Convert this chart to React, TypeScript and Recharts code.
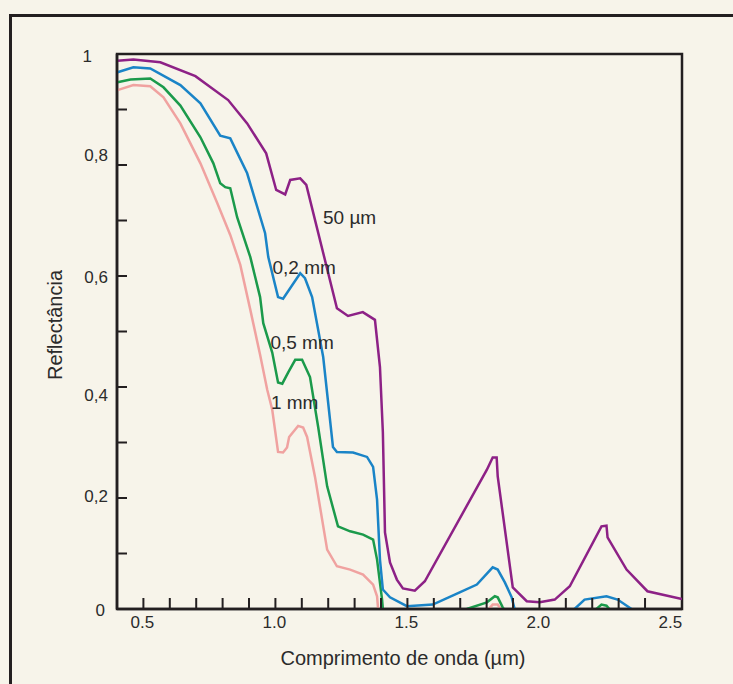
import { LineChart, Line, XAxis, YAxis, ReferenceArea, ReferenceDot } from 'recharts'

type Pt = [number, number | null]

// wavelength (µm), reflectance
const micron50: Pt[] = [
  [0.402, 0.988], [0.462, 0.99], [0.564, 0.985], [0.697, 0.96], [0.821, 0.917],
  [0.893, 0.875], [0.965, 0.821], [1.003, 0.755], [1.037, 0.747], [1.056, 0.773],
  [1.094, 0.776], [1.117, 0.764], [1.233, 0.542], [1.275, 0.528], [1.331, 0.535],
  [1.377, 0.521], [1.396, 0.436], [1.407, 0.318], [1.415, 0.138], [1.434, 0.084],
  [1.46, 0.053], [1.483, 0.037], [1.528, 0.033], [1.566, 0.05], [1.801, 0.251],
  [1.823, 0.273], [1.838, 0.273], [1.842, 0.239], [1.899, 0.039], [1.952, 0.014],
  [2.001, 0.012], [2.058, 0.017], [2.115, 0.041], [2.235, 0.149], [2.254, 0.15],
  [2.258, 0.129], [2.33, 0.071], [2.409, 0.032], [2.54, 0.018],
]

const mm02: Pt[] = [
  [0.402, 0.967], [0.462, 0.976], [0.526, 0.974], [0.64, 0.944], [0.716, 0.911],
  [0.791, 0.853], [0.829, 0.848], [0.893, 0.785], [0.961, 0.677], [0.973, 0.634],
  [1.01, 0.562], [1.029, 0.559], [1.094, 0.605], [1.112, 0.596], [1.139, 0.562],
  [1.181, 0.454], [1.218, 0.292], [1.233, 0.283], [1.294, 0.282], [1.347, 0.274],
  [1.37, 0.256], [1.385, 0.197], [1.396, 0.089], [1.407, 0.035], [1.434, 0.021],
  [1.498, 0.005], [1.596, 0.008], [1.698, 0.03], [1.763, 0.044], [1.823, 0.075],
  [1.842, 0.071], [1.869, 0.048], [1.895, 0.021], [1.906, 0], [2.0, null],
  [2.133, 0], [2.171, 0.017], [2.254, 0.023], [2.296, 0.017], [2.349, 0],
]

const mm05: Pt[] = [
  [0.402, 0.949], [0.451, 0.954], [0.526, 0.956], [0.576, 0.94], [0.64, 0.907],
  [0.716, 0.85], [0.765, 0.803], [0.791, 0.767], [0.81, 0.76], [0.829, 0.758],
  [0.855, 0.706], [0.905, 0.634], [0.942, 0.562], [0.954, 0.515], [0.988, 0.462],
  [1.01, 0.408], [1.026, 0.406], [1.048, 0.426], [1.075, 0.449], [1.101, 0.449],
  [1.131, 0.418], [1.162, 0.328], [1.196, 0.221], [1.237, 0.149], [1.283, 0.14],
  [1.332, 0.134], [1.37, 0.125], [1.385, 0.089], [1.404, 0.017], [1.407, 0],
  [1.6, null],
  [1.725, 0], [1.801, 0.012], [1.831, 0.023], [1.842, 0.021], [1.861, 0.003], [1.865, 0],
  [2.0, null],
  [2.216, 0], [2.235, 0.008], [2.254, 0.006], [2.265, 0],
]

const mm1: Pt[] = [
  [0.402, 0.935], [0.462, 0.944], [0.526, 0.942], [0.576, 0.922], [0.64, 0.875],
  [0.716, 0.803], [0.78, 0.731], [0.829, 0.674], [0.867, 0.62], [0.905, 0.539],
  [0.942, 0.458], [0.969, 0.395], [0.988, 0.359], [1.01, 0.283], [1.029, 0.282],
  [1.044, 0.291], [1.052, 0.31], [1.086, 0.33], [1.105, 0.327], [1.12, 0.31],
  [1.15, 0.238], [1.196, 0.107], [1.233, 0.077], [1.283, 0.071], [1.332, 0.062],
  [1.37, 0.044], [1.385, 0.023], [1.389, 0],
  [1.6, null],
  [1.808, 0], [1.823, 0.008], [1.842, 0.008], [1.853, 0],
]

const xTicks = [
  0.5, 0.6, 0.7, 0.8, 0.9, 1.0, 1.1, 1.2, 1.3, 1.4, 1.5, 1.6, 1.7, 1.8, 1.9,
  2.0, 2.1, 2.2, 2.3, 2.4, 2.5,
]
const yTicks = [0, 0.1, 0.2, 0.3, 0.4, 0.5, 0.6, 0.7, 0.8, 0.9, 1]

const curveLabels = [
  { text: '50 µm', w: 1.281, r: 0.706 },
  { text: '0,2 mm', w: 1.109, r: 0.616 },
  { text: '0,5 mm', w: 1.101, r: 0.481 },
  { text: '1 mm', w: 1.073, r: 0.372 },
]

const INK = '#231f20'
const TEXT = '#2b2b2b'
const FONT = '"Liberation Sans", Arial, sans-serif'

const toRows = (pts: Pt[]) => pts.map(([w, r]) => ({ w, r }))

function XTick({ x, y, payload }: any) {
  const v = payload.value as number
  const major = Math.abs(v * 2 - Math.round(v * 2)) < 1e-6
  return (
    <g>
      {v < 2.45 && <line x1={x} x2={x} y1={y} y2={y - 11} stroke={INK} strokeWidth={2} />}
      {major && (
        <text x={x - 1} y={y + 19} textAnchor="middle" fontSize={17} fill={TEXT}>
          {v.toFixed(1)}
        </text>
      )}
    </g>
  )
}

function YTick({ x, y, payload }: any) {
  const v = payload.value as number
  const k = Math.round(v * 10)
  const labelled = k % 2 === 0
  const label = k === 0 ? '0' : k === 10 ? '1' : v.toFixed(1).replace('.', ',')
  // the original labels sit a little off their ticks
  const dy = { 0: 7, 2: 4, 4: 14, 6: 7, 8: -4, 10: 8 }[k] ?? 6
  const right = k === 10 ? x - 25 : k === 0 ? x - 12 : x - 9
  return (
    <g>
      {k > 0 && k < 10 && <line x1={x} x2={x + 10} y1={y} y2={y} stroke={INK} strokeWidth={2} />}
      {labelled && (
        <text x={right} y={y + dy} textAnchor="end" fontSize={17} fill={TEXT}>
          {label}
        </text>
      )}
    </g>
  )
}

export default function App() {
  return (
    <div
      style={{
        position: 'relative',
        width: 733,
        height: 684,
        background: '#f7f4ea',
        overflow: 'hidden',
        fontFamily: FONT,
      }}
    >
      <style>{'body{margin:0;background:#f7f4ea}'}</style>
      <div
        style={{
          position: 'absolute',
          left: 9,
          top: 14,
          width: 800,
          height: 800,
          borderTop: `3px solid ${INK}`,
          borderLeft: `3px solid ${INK}`,
        }}
      />
      <div style={{ position: 'absolute', left: 0, top: 0 }}>
        <LineChart width={733} height={684} margin={{ top: 54, right: 51, bottom: 35, left: 57 }}>
          <XAxis
            dataKey="w"
            type="number"
            domain={[0.4, 2.54]}
            allowDataOverflow
            ticks={xTicks}
            interval={0}
            tick={XTick}
            tickLine={false}
            tickSize={0}
            tickMargin={0}
            axisLine={{ stroke: INK, strokeWidth: 2.5 }}
            height={40}
          />
          <YAxis
            type="number"
            domain={[0, 1]}
            allowDataOverflow
            ticks={yTicks}
            interval={0}
            tick={YTick}
            tickLine={false}
            tickSize={0}
            tickMargin={0}
            axisLine={{ stroke: INK, strokeWidth: 2.5 }}
            width={60}
          />
          <ReferenceArea
            x1={0.4}
            x2={2.54}
            y1={0}
            y2={1}
            fill="none"
            stroke={INK}
            strokeWidth={2.5}
          />
          <Line data={toRows(mm1)} dataKey="r" stroke="#f0a2a0" strokeWidth={2.5} dot={false} isAnimationActive={false} />
          <Line data={toRows(mm05)} dataKey="r" stroke="#1b9a4b" strokeWidth={2.5} dot={false} isAnimationActive={false} />
          <Line data={toRows(mm02)} dataKey="r" stroke="#1a84c7" strokeWidth={2.5} dot={false} isAnimationActive={false} />
          <Line data={toRows(micron50)} dataKey="r" stroke="#8d2186" strokeWidth={2.5} dot={false} isAnimationActive={false} />
          {curveLabels.map((c) => (
            <ReferenceDot
              key={c.text}
              x={c.w}
              y={c.r}
              r={0}
              fill="none"
              stroke="none"
              label={{ value: c.text, position: 'center', fontSize: 19, fill: TEXT }}
            />
          ))}
        </LineChart>
      </div>
      <svg
        width={733}
        height={684}
        style={{ position: 'absolute', left: 0, top: 0, pointerEvents: 'none' }}
      >
        <text
          x={62}
          y={325}
          transform="rotate(-90 62 325)"
          textAnchor="middle"
          fontSize={20}
          fill={TEXT}
        >
          Reflectância
        </text>
        <text x={403} y={665} textAnchor="middle" fontSize={20} fill={TEXT}>
          Comprimento de onda (µm)
        </text>
      </svg>
    </div>
  )
}
